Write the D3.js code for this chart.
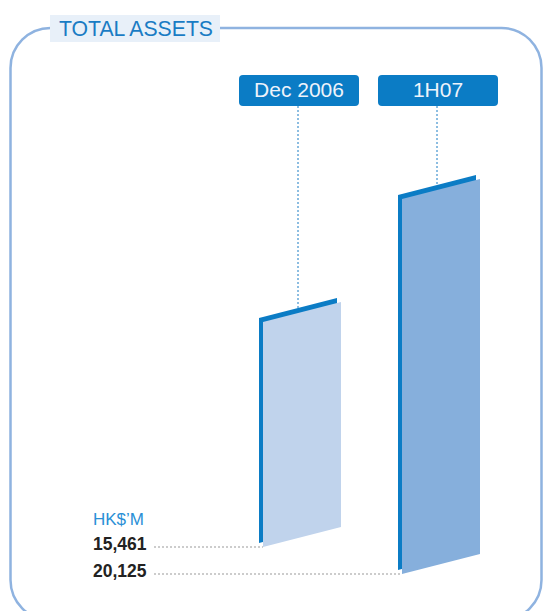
<!DOCTYPE html>
<html>
<head>
<meta charset="utf-8">
<script src="https://cdn.jsdelivr.net/npm/d3@7"></script>
<style>
  body { margin: 0; background: #fff; }
  svg { display: block; font-family: "Liberation Sans", Arial, Helvetica, sans-serif; }
</style>
</head>
<body>
<div class="chart"></div>
<script>
// data
const categories = ["Dec 2006", "1H07"];
const values = [15461, 20125];
const valueLabels = ["15,461", "20,125"];
const unitLabel = "HK$\u2019M";
const title = "TOTAL ASSETS";

const width = 543;
const height = 611;

const svg = d3.select(".chart")
    .append("svg")
    .attr("width", width)
    .attr("height", height);

/* Frame */
svg.append("rect")
    .attr("x", 10.5)
    .attr("y", 28)
    .attr("width", 531)
    .attr("height", 592)
    .attr("rx", 40)
    .attr("fill", "none")
    .attr("stroke", "#8fb3e0")
    .attr("stroke-width", 2.5);

// title box
svg.append("rect")
    .attr("x", 50)
    .attr("y", 15)
    .attr("width", 170)
    .attr("height", 27)
    .attr("fill", "#e8f0f9");
svg.append("text")
    .attr("x", 59)
    .attr("y", 36)
    .attr("textLength", 154)
    .attr("lengthAdjust", "spacingAndGlyphs")
    .style("font-size", "22px")
    .style("fill", "#1a7cc4")
    .text(title);

/* Scales */
// centre of each bar (and of its label / dotted line)
const xScale = d3.scalePoint()
    .domain(categories)
    .range([298, 437]);

// top-left of the bar face
const yScale = d3.scaleLinear()
    .domain(d3.extent(values))
    .range([318, 195]);

// baseline row for each value label
const rowScale = d3.scalePoint()
    .domain(categories)
    .range([543, 570]);

const halfW = 39;   // half width of the bar face
const slant = 20;   // rise of the bar face from left to right
const depth = 4;    // offset of the light face from the dark edge

const bars = categories.map((c, i) => ({
    cat: c,
    value: values[i],
    label: valueLabels[i],
    cx: xScale(c),
    top: yScale(values[i]),
    bottom: rowScale(c)
}));

function face(d, dx, dy) {
    const x0 = d.cx - halfW + dx, x1 = d.cx + halfW + dx;
    return [
        [x0, d.top + dy],
        [x1, d.top + dy - slant],
        [x1, d.bottom + dy - slant],
        [x0, d.bottom + dy]
    ];
}
const line = d3.line().curve(d3.curveLinearClosed);
const fills = ["#c0d3ec", "#86afdc"];

// dark edge
svg.selectAll(".edge")
    .data(bars)
    .enter()
    .append("path")
    .attr("class", "edge")
    .attr("d", d => line(face(d, 0, 0)))
    .attr("fill", "#0b7cc5");

// light face
svg.selectAll(".face")
    .data(bars)
    .enter()
    .append("path")
    .attr("class", "face")
    .attr("d", d => line(face(d, depth, depth)))
    .attr("fill", (d, i) => fills[i]);

// dotted leaders from labels to bars
svg.selectAll(".leader")
    .data(bars)
    .enter()
    .append("line")
    .attr("x1", d => d.cx)
    .attr("x2", d => d.cx)
    .attr("y1", 106)
    .attr("y2", d => d.top - slant / 2)
    .attr("stroke", "#1a7cc4")
    .attr("stroke-width", 1)
    .attr("stroke-dasharray", "2,2");

// category boxes
svg.selectAll(".catBox")
    .data(bars)
    .enter()
    .append("rect")
    .attr("x", d => d.cx - 59)
    .attr("y", 75)
    .attr("width", 120)
    .attr("height", 31)
    .attr("rx", 4)
    .attr("fill", "#0b7cc5");
svg.selectAll(".catText")
    .data(bars)
    .enter()
    .append("text")
    .attr("x", d => d.cx + 1)
    .attr("y", 97)
    .attr("text-anchor", "middle")
    .style("font-size", "21px")
    .style("fill", "#eef3fb")
    .text(d => d.cat);

/* Value labels */
svg.append("text")
    .attr("x", 93)
    .attr("y", 525)
    .style("font-size", "17px")
    .style("fill", "#2a8fd6")
    .text(unitLabel);

svg.selectAll(".valText")
    .data(bars)
    .enter()
    .append("text")
    .attr("x", 93)
    .attr("y", d => d.bottom + depth + 3)
    .style("font-size", "17.5px")
    .style("font-weight", "bold")
    .style("fill", "#222")
    .text(d => d.label);

svg.selectAll(".valLine")
    .data(bars)
    .enter()
    .append("line")
    .attr("x1", 154)
    .attr("x2", d => d.cx - halfW + depth)
    .attr("y1", d => d.bottom + depth)
    .attr("y2", d => d.bottom + depth)
    .attr("stroke", "#9a9a9a")
    .attr("stroke-width", 1.2)
    .attr("stroke-dasharray", "2,2");
</script>
</body>
</html>
